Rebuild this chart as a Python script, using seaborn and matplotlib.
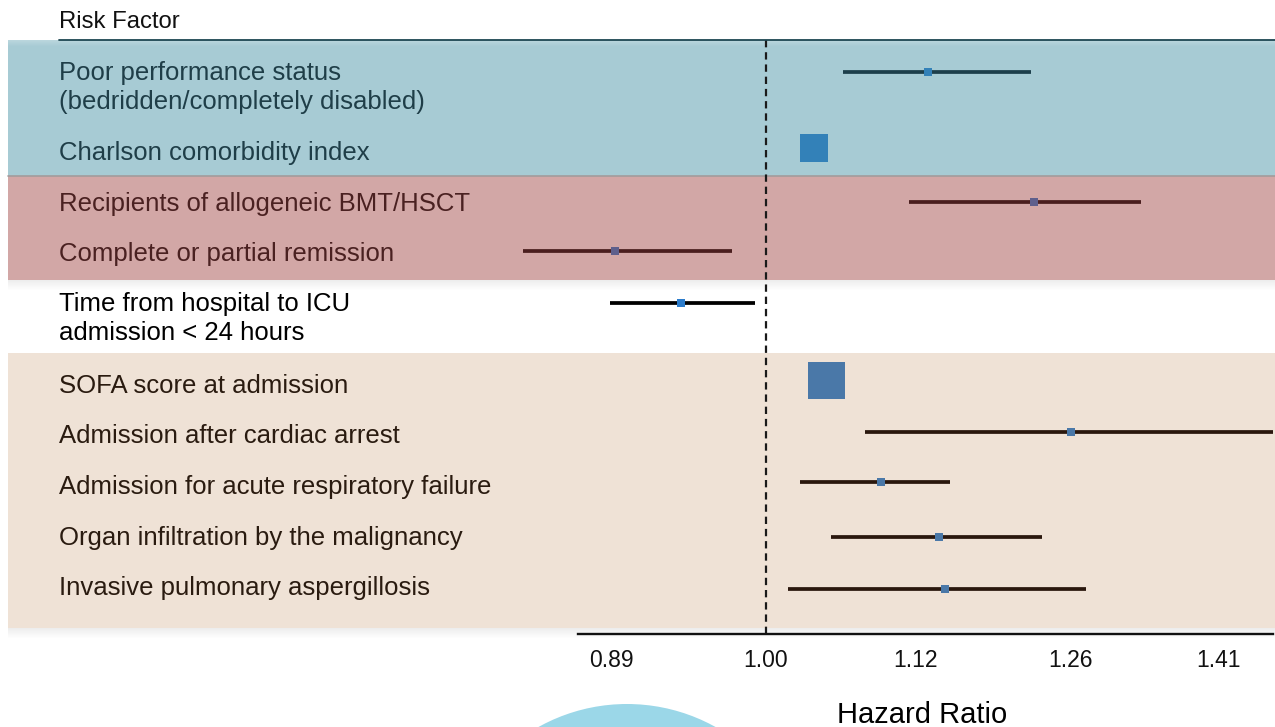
import numpy as np
import pandas as pd
import seaborn as sns
import matplotlib.pyplot as plt
from matplotlib.patches import Rectangle, Circle
from matplotlib.lines import Line2D
from matplotlib.transforms import Affine2D
from matplotlib.ticker import NullLocator

# ---- data -------------------------------------------------------------
factors = [
    "Poor performance status\n(bedridden/completely disabled)",
    "Charlson comorbidity index",
    "Recipients of allogeneic BMT/HSCT",
    "Complete or partial remission",
    "Time from hospital to ICU\nadmission < 24 hours",
    "SOFA score at admission",
    "Admission after cardiac arrest",
    "Admission for acute respiratory failure",
    "Organ infiltration by the malignancy",
    "Invasive pulmonary aspergillosis",
]
groups = ["patient", "patient", "malignancy", "malignancy", "timing",
          "acute", "acute", "acute", "acute", "acute"]
hazard_ratio = [1.131, 1.037, 1.226, 0.892, 0.938, 1.047, 1.260, 1.091, 1.140, 1.146]
ci_low = [1.060, 1.028, 1.115, 0.832, 0.889, 1.038, 1.078, 1.026, 1.051, 1.017]
ci_high = [1.223, 1.046, 1.329, 0.975, 0.992, 1.057, 1.600, 1.150, 1.233, 1.275]
tick_values = [0.89, 1.00, 1.12, 1.26, 1.41]
tick_labels = ["0.89", "1.00", "1.12", "1.26", "1.41"]

# ---- styling ----------------------------------------------------------
W, H = 1275, 727
box_px = [8, 28, 8, 8, 7.5, 37, 8, 8, 8, 8]          # marker side (pixels)
row_y = [72, 148, 202, 251, 303, 380, 432, 482, 537, 589]
label_baseline = [80, 160, 211, 261, 311, 393, 443, 494, 545, 595]
x_view = (0.8176, 1.469)      # plotting window (log scale)
x_axis = (0.8674, 1.469)      # extent of the drawn axis line

group_style = {
    #            band        text       line       marker
    "patient":    ("#A7CBD4", "#1F3E48", "#1D3F4B", "#3381B8"),
    "malignancy": ("#D2A7A6", "#4A2121", "#4A1E1E", "#5E5F8C"),
    "timing":     (None,      "#000000", "#000000", "#2C7CCB"),
    "acute":      ("#EFE2D6", "#2A1B10", "#2A170D", "#4A78A8"),
}
bands = [("patient", 40, 176), ("malignancy", 176, 280), ("acute", 353, 628)]

sns.set_style("white")
plt.rcParams["font.family"] = ["Liberation Sans", "DejaVu Sans"]

fig = plt.figure(figsize=(W / 100, H / 100), dpi=100)
px = Affine2D().scale(1 / W, -1 / H).translate(0, 1) + fig.transFigure

# coloured group bands running across the whole width
for g, y0, y1 in bands:
    fig.add_artist(Rectangle((8, y0), W - 8, y1 - y0, transform=px,
                             facecolor=group_style[g][0], edgecolor="none", zorder=-10))
# soft drop shadows below bands
for yb in (280, 628):
    for i in range(10):
        fig.add_artist(Rectangle((8, yb + i), W - 8, 1, transform=px, facecolor="black",
                                 alpha=0.07 * (1 - i / 10), edgecolor="none", zorder=-9))
for i in range(6):
    fig.add_artist(Rectangle((8, 40 + i), W - 8, 1, transform=px, facecolor="white",
                             alpha=0.22 * (1 - i / 6), edgecolor="none", zorder=-9))
fig.add_artist(Line2D([8, W], [176, 176], transform=px, color="#A29C9C", lw=1.2, zorder=-8))

# header
fig.text(59, 28, "Risk Factor", transform=px, fontsize=17.2, color="#111111", va="baseline")
fig.add_artist(Line2D([59, W], [39.5, 39.5], transform=px, color="#1D4752", lw=1.3, zorder=5))

# row labels
for lab, base, g in zip(factors, label_baseline, groups):
    for k, line in enumerate(lab.split("\n")):
        fig.text(59, base + 29 * k, line, transform=px, fontsize=18.5,
                 color=group_style[g][1], va="baseline")

# ---- forest plot axes -------------------------------------------------
ax = fig.add_axes([500 / W, 1 - 634 / H, (1273 - 500) / W, (634 - 40) / H])
ax.patch.set_visible(False)
ax.set_xscale("log")

df = pd.DataFrame({"factor": factors, "group": groups, "hr": hazard_ratio,
                   "lo": ci_low, "hi": ci_high, "y": row_y})

ax.axvline(1.0, color="#1A1A1A", lw=1.6, ls=(0, (3.3, 2.2)), zorder=2)
ax.hlines(df["y"], df["lo"], df["hi"], colors=[group_style[g][2] for g in groups],
          linewidth=2.7, zorder=3)
sns.scatterplot(data=df, x="hr", y="y", hue="factor",
                palette={f: group_style[g][3] for f, g in zip(factors, groups)},
                s=[(b * 0.72) ** 2 for b in box_px], marker="s", linewidth=0,
                legend=False, ax=ax, zorder=4)

ax.set_xlim(*x_view)
ax.set_ylim(634, 40)
ax.set_xticks(tick_values, labels=tick_labels)
ax.xaxis.set_minor_locator(NullLocator())
ax.set_yticks([])
ax.set_xlabel("")
ax.set_ylabel("")
for s in ("top", "left", "right"):
    ax.spines[s].set_visible(False)
ax.spines["bottom"].set_bounds(*x_axis)
ax.spines["bottom"].set_linewidth(1.7)
ax.spines["bottom"].set_color("#111111")
ax.tick_params(axis="x", length=3.6, width=1.0, color="#222222", pad=7,
               labelsize=16.5, labelcolor="#111111")

fig.text(922, 723, "Hazard Ratio", transform=px, fontsize=21, ha="center",
         va="baseline", color="#000000")

# decorative disc at the foot of the page
fig.add_artist(Circle((627, 886), 182, transform=px, facecolor="#9BD7E8",
                      edgecolor="none", zorder=-10))

fig.savefig("out.png", dpi=100)
